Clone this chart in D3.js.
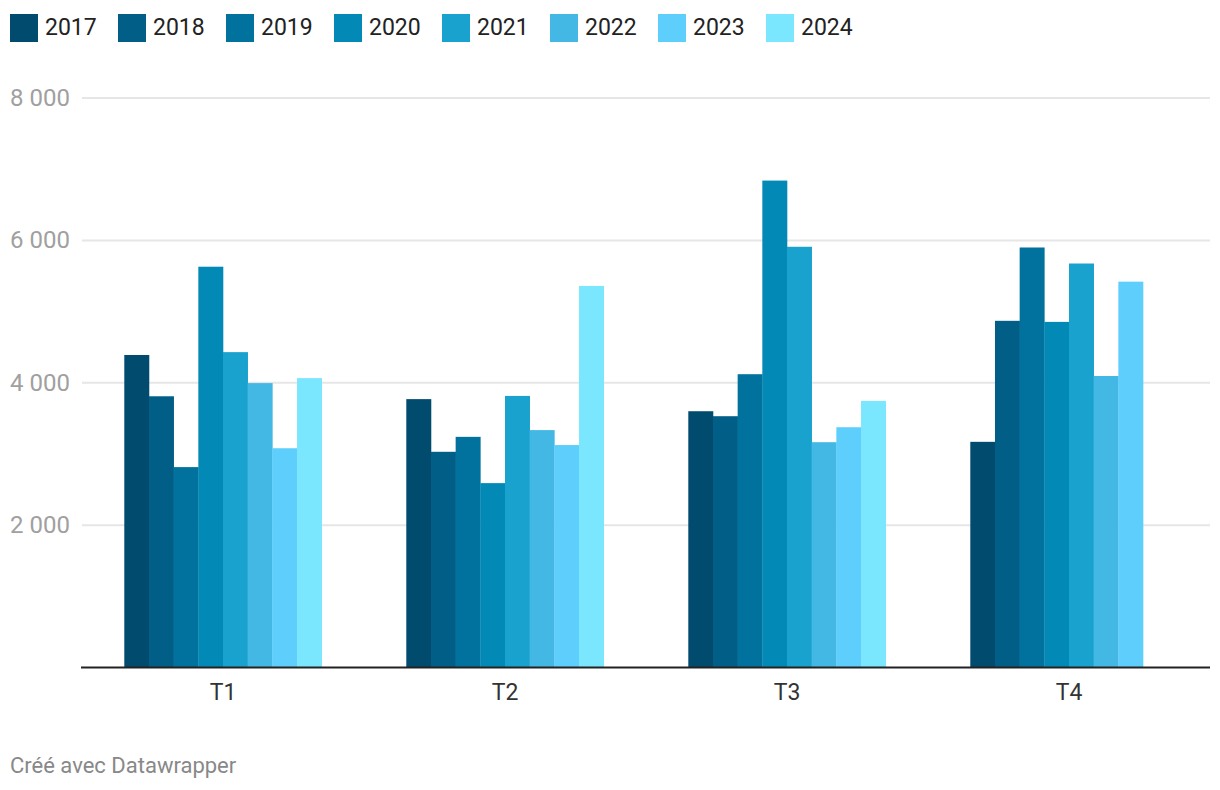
<!DOCTYPE html>
<html>
<head>
<meta charset="utf-8">
<script src="https://cdn.jsdelivr.net/npm/d3@7"></script>
<style>
  html, body { margin: 0; padding: 0; background: #fff; }
  svg { display: block; font-family: Roboto, "Noto Sans", sans-serif; }
</style>
</head>
<body>
<svg id="chart" width="1220" height="790"></svg>
<script>
const categories = ["T1", "T2", "T3", "T4"];
const years = ["2017", "2018", "2019", "2020", "2021", "2022", "2023", "2024"];
const colors = ["#014b6f", "#005e87", "#00729d", "#0289b6", "#1aa2ce", "#43b8e5", "#5ecefd", "#7ae7fe"];
const v2017 = [4390, 3770, 3600, 3170];
const v2018 = [3810, 3030, 3530, 4870];
const v2019 = [2815, 3240, 4120, 5900];
const v2020 = [5630, 2590, 6840, 4855];
const v2021 = [4430, 3815, 5910, 5675];
const v2022 = [3995, 3335, 3165, 4095];
const v2023 = [3080, 3125, 3375, 5420];
const v2024 = [4065, 5360, 3745, null];
const seriesValues = [v2017, v2018, v2019, v2020, v2021, v2022, v2023, v2024];
const yTicks = [2000, 4000, 6000, 8000];
const yTickLabels = ["2 000", "4 000", "6 000", "8 000"];
const footer = "Créé avec Datawrapper";

const svg = d3.select("#chart");
const plotLeft = 82, plotRight = 1210, plotTop = 98, plotBottom = 667.5;

const x0 = d3.scaleBand().domain(categories).range([plotLeft, plotRight]).paddingInner(0.3).paddingOuter(0.15);
const x1 = d3.scaleBand().domain(years).range([0, x0.bandwidth()]).padding(0);
const y = d3.scaleLinear().domain([0, 8000]).range([plotBottom, plotTop]);
const color = d3.scaleOrdinal().domain(years).range(colors);

// gridlines
const grid = svg.append("g");
grid.selectAll("line").data(yTicks).join("line")
  .attr("x1", plotLeft).attr("x2", plotRight)
  .attr("y1", d => y(d)).attr("y2", d => y(d))
  .attr("stroke", "#e6e6e6").attr("stroke-width", 2);

// y labels
svg.append("g").selectAll("text").data(yTicks).join("text")
  .attr("x", 10).attr("y", d => y(d))
  .attr("dominant-baseline", "central")
  .attr("font-size", 24).attr("fill", "#a0a0a0")
  .text((d, i) => yTickLabels[i]);

// bars
const data = [];
categories.forEach((c, ci) => {
  years.forEach((yr, yi) => {
    const v = seriesValues[yi][ci];
    if (v != null) data.push({ cat: c, year: yr, value: v });
  });
});
svg.append("g").selectAll("rect").data(data).join("rect")
  .attr("x", d => x0(d.cat) + x1(d.year))
  .attr("width", x1.bandwidth() + 0.3)
  .attr("y", d => y(d.value))
  .attr("height", d => y(0) - y(d.value))
  .attr("fill", d => color(d.year));

// x axis
svg.append("line")
  .attr("x1", 81).attr("x2", plotRight)
  .attr("y1", y(0)).attr("y2", y(0))
  .attr("stroke", "#222").attr("stroke-width", 2);

const xAxis = d3.axisBottom(x0).tickSize(0).tickPadding(0);
const xg = svg.append("g").attr("transform", `translate(0,${y(0)})`).call(xAxis);
xg.select(".domain").remove();
xg.selectAll("text")
  .attr("y", 25).attr("dy", null)
  .attr("dominant-baseline", "central")
  .attr("font-size", 23).attr("fill", "#333")
  .attr("font-family", "Roboto, sans-serif");

// legend
const legend = svg.append("g");
const items = legend.selectAll("g").data(years).join("g")
  .attr("transform", (d, i) => `translate(${10 + i * 108},14)`);
items.append("rect").attr("width", 28).attr("height", 28).attr("fill", d => color(d));
items.append("text").attr("x", 35).attr("y", 13)
  .attr("dominant-baseline", "central")
  .attr("font-size", 23).attr("fill", "#222")
  .text(d => d);

// footer
svg.append("text").attr("x", 10).attr("y", 765)
  .attr("dominant-baseline", "central")
  .attr("font-size", 22).attr("fill", "#888")
  .text(footer);
</script>
</body>
</html>
